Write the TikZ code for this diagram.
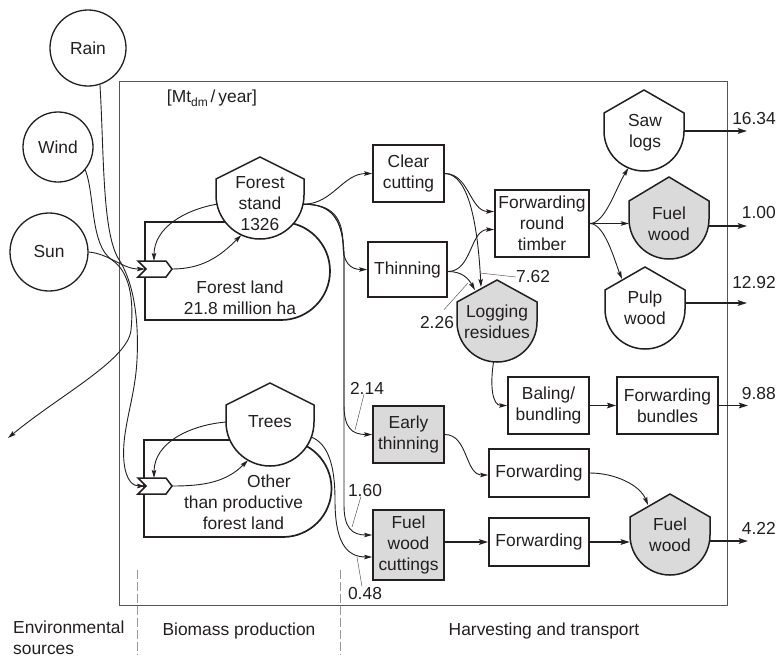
\documentclass[tikz,border=0pt]{standalone}
\usepackage{fontspec}
\setmainfont{Liberation Sans}
\usetikzlibrary{arrows.meta}
\definecolor{ink}{RGB}{35,31,32}
\definecolor{shade}{RGB}{218,218,218}
\definecolor{framec}{RGB}{85,85,85}
\newcommand\shieldat[6]{\draw[#6] (#1-#3,#2) -- (#1-#3,#2-#4) -- (#1,#2-#4-#5) -- (#1+#3,#2-#4) -- (#1+#3,#2) arc[start angle=0,end angle=180,radius=#3] -- cycle;}
\begin{document}
\begin{tikzpicture}[x=1pt,y=-1pt,
  txt/.style={font=\fontsize{17.4}{21}\selectfont, text=ink, inner sep=0pt, align=center},
  box/.style={txt, draw=ink, line width=1.7pt, fill=white},
  graybox/.style={box, fill=shade},
  envc/.style={txt, circle, draw=ink, line width=1.3pt},
  geo/.style={circle, inner sep=0pt, draw=none},
  shieldline/.style={draw=ink, line width=1.5pt, fill=white},
  shieldgray/.style={shieldline, fill=shade},
  land/.style={draw=ink, line width=1.7pt},
  wire/.style={draw=ink, line width=0.9pt, -{Stealth[length=8pt,width=4.5pt,inset=1.5pt]}},
  thickwire/.style={draw=ink, line width=1.9pt, -{Stealth[length=9pt,width=5.5pt,inset=1.5pt]}},
  leader/.style={draw=ink!80, line width=0.45pt},
  dashline/.style={draw=black!40, line width=0.8pt, dash pattern=on 9pt off 3pt},
  pump/.style={draw=ink, line width=1.5pt, fill=white}]
\useasboundingbox (0,0) rectangle (778,657);

% frame and phase separators
\draw[draw=framec, line width=0.9pt] (119,81) rectangle (727,605);
\draw[dashline] (137,570) -- (137,655);
\draw[dashline] (340,570) -- (340,655);

% land boxes
\draw[land] (281,222) -- (145,222) -- (145,320) -- (281,320) arc[start angle=90,end angle=-90,radius=49];
\draw[land] (283,440) -- (144,440) -- (144,537) -- (283,537) arc[start angle=90,end angle=-90,radius=48.5];

% shields
\shieldat{260}{195}{44}{16}{22}{shieldline}
\node[geo, minimum size=88pt] (fs) at (260,195) {};
\node[txt] (fst) at (260,203.5) {Forest\\stand\\1326};

\shieldat{270}{422}{44}{17}{22}{shieldline}
\node[geo, minimum size=88pt] (tr) at (270,422) {};
\node[txt] (trt) at (270,422) {Trees};

\shieldat{644}{131}{40}{18}{23}{shieldline}
\node[geo, minimum size=80pt] (saw) at (644,131) {};
\node[txt] (sawt) at (645,133) {Saw\\logs};

\shieldat{669}{219}{40}{18}{24}{shieldgray}
\node[geo, minimum size=80pt] (fw1) at (669,219) {};
\node[txt] (fw1t) at (669,223.5) {Fuel\\wood};

\shieldat{645}{309}{40}{19}{23}{shieldline}
\node[geo, minimum size=80pt] (pulp) at (645,309) {};
\node[txt] (pulpt) at (645,308) {Pulp\\wood};

\shieldat{497}{322}{40}{20}{22}{shieldgray}
\node[geo, minimum size=80pt] (lr) at (497,322) {};
\node[txt] (lrt) at (497,322) {Logging\\residues};

\shieldat{670}{535}{40}{18}{23}{shieldgray}
\node[geo, minimum size=80pt] (fw2) at (670,535) {};
\node[txt] (fw2t) at (670,534.5) {Fuel\\wood};

% land texts
\node[txt] (fl) at (240,297.5) {Forest land\\21.8 million ha};
\node[txt] (oth) at (243.5,502.5) {\hspace*{51pt}Other\\than productive\\forest land};

% boxes
\node[box, minimum width=71pt, minimum height=57pt] (cc) at (408.5,173.5) {Clear\\cutting};
\node[box, minimum width=79pt, minimum height=55pt] (th) at (407.5,269.5) {Thinning};
\node[box, minimum width=94pt, minimum height=67pt] (frt) at (542,223.5) {Forwarding\\round\\timber};
\node[graybox, minimum width=71pt, minimum height=57pt] (et) at (408.5,434.5) {Early\\thinning};
\node[graybox, minimum width=71pt, minimum height=70pt] (fwc) at (408.5,545) {Fuel\\wood\\cuttings};
\node[box, minimum width=81pt, minimum height=57pt] (bb) at (548.5,405.5) {Baling/\\bundling};
\node[box, minimum width=101pt, minimum height=57pt] (fb) at (667.5,405.5) {Forwarding\\bundles};
\node[box, minimum width=100pt, minimum height=48pt] (f1) at (539,473) {Forwarding};
\node[box, minimum width=100pt, minimum height=48pt] (f2) at (539,542) {Forwarding};

% environmental sources
\node[envc, minimum size=76pt] (rain) at (88,48) {Rain};
\node[envc, minimum size=70pt] (wind) at (58,147) {Wind};
\node[envc, minimum size=78pt] (sun) at (49,252) {Sun};

% interaction symbols
\draw[pump] (138,261) -- (146,269) -- (138,277) -- (166,277) -- (172,269) -- (166,261) -- cycle;
\coordinate (p1in) at (145,269);
\coordinate (p1tip) at (172,269);
\coordinate (p1top) at (154,261);
\draw[pump] (138,478) -- (146,486) -- (138,494) -- (166,494) -- (172,486) -- (166,478) -- cycle;
\coordinate (p2in) at (145,486);
\coordinate (p2tip) at (172,486);
\coordinate (p2top) at (154,478);
\coordinate (sink) at (8,438);

% source flows
\draw[wire] (sun.0) .. controls (110,254) and (122,269) .. (p1in);
\draw[wire] (wind.-40) .. controls (95,195) and (90,245) .. (112,260) .. controls (130,272) and (134,300) .. (131,330) .. controls (128,360) and (60,395) .. (sink);
\draw[wire] (rain.-72) .. controls (104,150) and (102,230) .. (118,258) .. controls (134,282) and (139,320) .. (137,360) .. controls (135,400) and (121,430) .. (124,462) .. controls (126,482) and (134,486) .. (p2in);

% production loops
\draw[wire] (fs.192) to[out=190,in=90] (p1top);
\draw[wire] (p1tip) to[out=0,in=-135] (fs.-115);
\draw[wire] (tr.180) to[out=185,in=90] (p2top);
\draw[wire] (p2tip) to[out=0,in=-135] (tr.-120);

% harvesting flows
\draw[wire] (fs.-12) to[out=0,in=180] (cc.west);
\draw[wire] (fs.-12) .. controls (333,204) and (343,218) .. (343,245) .. controls (343,262) and (350,269.5) .. (th.west);
\draw[wire] (fs.-12) .. controls (333,204) and (344,220) .. (344,260) -- (344,405) .. controls (344,428) and (352,434.5) .. (et.west);
\draw[wire] (fs.-12) .. controls (333,204) and (344,220) .. (344,260) -- (344,505) .. controls (344,528) and (352,535) .. ([yshift=10pt]fwc.west);
\draw[wire] (tr.-20) .. controls (328,444) and (335,465) .. (335,500) .. controls (335,540) and (345,557) .. ([yshift=-12pt]fwc.west);

\draw[wire] (cc.east) to[out=0,in=180] ([yshift=12pt]frt.west);
\draw[wire] (cc.east) .. controls (470,174) and (478,230) .. ([shift={(-16,-35)}]lr.center);
\draw[wire] ([yshift=-2pt]th.east) to[out=0,in=180] ([yshift=-6pt]frt.west);
\draw[wire] ([yshift=-2pt]th.east) .. controls (462,271.5) and (468,278) .. ([shift={(-22,-32)}]lr.center);

\draw[wire] (frt.east) .. controls (605,223.5) and (615,190) .. (saw.-113);
\draw[wire] (frt.east) -- (frt.east -| fw1.west);
\draw[wire] (frt.east) .. controls (605,223.5) and (615,262) .. ([shift={(-23,-30)}]pulp.center);

\draw[wire] (lr.-95) .. controls (490,385) and (492,405.5) .. (bb.west);
\draw[thickwire] (bb.east) -- (fb.west);
\draw[wire] (et.east) to[out=0,in=180] ([yshift=-2pt]f1.west);
\draw[thickwire] (fwc.east |- f2.west) -- (f2.west);
\draw[wire] (f1.east) .. controls (615,473) and (640,485) .. ([shift={(-22,-30)}]fw2.center);
\draw[thickwire] (f2.east) -- (f2.east -| fw2.west);

% outputs
\coordinate (o1) at (747,131);
\coordinate (o2) at (747,226);
\coordinate (o3) at (747,303);
\coordinate (o4) at (748,405.5);
\coordinate (o5) at (748,541);
\draw[thickwire] (saw.east) -- (o1);
\draw[thickwire] ([yshift=-7pt]fw1.east) -- (o2);
\draw[thickwire] ([yshift=6pt]pulp.east) -- (o3);
\draw[thickwire] (fb.east) -- (o4);
\draw[thickwire] ([yshift=-6pt]fw2.east) -- (o5);
\node[txt, anchor=east] (v1) at (776,119) {16.34};
\node[txt, anchor=east] (v2) at (776,213) {1.00};
\node[txt, anchor=east] (v3) at (776,283) {12.92};
\node[txt, anchor=east] (v4) at (776,393) {9.88};
\node[txt, anchor=east] (v5) at (776,528) {4.22};

% flow values with leaders
\node[txt] (l214) at (367,388) {2.14};
\node[txt] (l160) at (365,490) {1.60};
\node[txt] (l048) at (365,593) {0.48};
\node[txt] (l762) at (533,277) {7.62};
\node[txt] (l226) at (437,322) {2.26};
\draw[leader] ([xshift=-3pt]l214.south) -- (355,430);
\draw[leader] ([xshift=-4pt]l160.south) -- (352,527);
\draw[leader] ([xshift=-3pt]l048.north) -- (357,557);
\draw[leader] (l762.west) -- (480,273);
\draw[leader] ([xshift=7pt,yshift=6pt]l226.north) -- (468,283);

% unit and phase labels
\node[txt] (unit) at (212,98) {[Mt\raisebox{-3.5pt}{\fontsize{12}{12}\selectfont dm}\,/\,year]};
\node[txt, anchor=west, align=left] (envl) at (13,638) {Environmental\\sources};
\node[txt] (bio) at (239,631) {Biomass production};
\node[txt] (harv) at (544,631) {Harvesting and transport};
\end{tikzpicture}
\end{document}
